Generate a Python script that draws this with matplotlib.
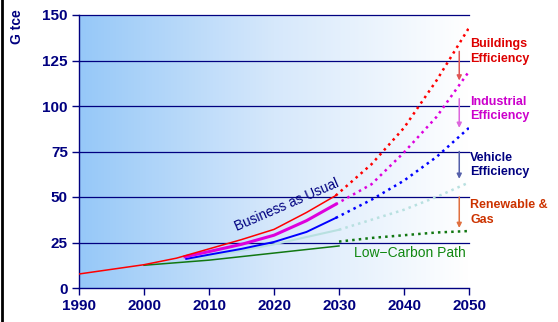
import matplotlib.pyplot as plt
import numpy as np
from matplotlib.colors import LinearSegmentedColormap
from matplotlib.lines import Line2D

plt.rcParams['font.family'] = ['Liberation Sans', 'DejaVu Sans']

# historical + business-as-usual (solid to 2029, projected dotted after)
bau_years = [1990, 2000, 2005, 2010, 2015, 2020, 2025, 2029.5]
bau_vals = [7.7, 12.8, 16.4, 21.5, 26.6, 32.2, 41.5, 50.8]
bau_proj_years = [2029.5, 2035, 2040, 2045, 2050]
bau_proj_vals = [50.8, 68, 88, 114, 143]

ind_years = [2006.3, 2010, 2015, 2020, 2025, 2029.5]
ind_vals = [17.2, 20, 24, 29, 37, 46]
ind_proj_years = [2029.5, 2035, 2040, 2045, 2050]
ind_proj_vals = [46, 57, 74.5, 94, 119]

veh_years = [2006.5, 2010, 2015, 2020, 2025, 2029.5]
veh_vals = [16, 18.3, 21.5, 25.3, 30.8, 38.5]
veh_proj_years = [2029.5, 2035, 2040, 2045, 2050]
veh_proj_vals = [38.5, 48.5, 59, 72, 88]

ren_years = [2007, 2015, 2020, 2025, 2030]
ren_vals = [15.5, 20.5, 24, 28, 32]
ren_proj_years = [2030, 2035, 2040, 2045, 2050]
ren_proj_vals = [32, 37.5, 43, 50, 58]

low_years = [2000, 2010, 2020, 2030]
low_vals = [12.5, 15.3, 19.2, 23.1]
low_proj_years = [2030, 2035, 2040, 2045, 2050]
low_proj_vals = [25.5, 27.5, 29, 30.5, 31.3]

# wedge labels: text, text colour, arrow colour, arrow start/end, text y
wedges = [
    ("Buildings\nEfficiency", "#dd0000", "#e05555", 130, 114, 130),
    ("Industrial\nEfficiency", "#cc00cc", "#dd66dd", 104, 88, 98.5),
    ("Vehicle\nEfficiency", "#000080", "#5560aa", 75, 60, 67.5),
    ("Renewable &\nGas", "#cc3300", "#e07040", 50, 33, 41.5),
]

navy = "#000080"

fig = plt.figure(figsize=(5.58, 3.22), dpi=100)
ax = fig.add_axes([79 / 558, 34 / 322, 390 / 558, 273 / 322])

# horizontal blue-to-white gradient behind the plot
cmap = LinearSegmentedColormap.from_list("bg", ["#96c8f8", "#d6e8fb", "#ffffff"])
grad = np.linspace(0, 1, 256).reshape(1, -1)
ax.imshow(grad, extent=[1990, 2050, 0, 150], aspect="auto", cmap=cmap, zorder=0)

for yv in [25, 50, 75, 100, 125, 150]:
    ax.axhline(yv, color=navy, lw=0.9, zorder=1, clip_on=False)

ax.plot(ren_years, ren_vals, color="#b8e0e0", lw=1.5, zorder=2)
ax.plot(ren_proj_years, ren_proj_vals, color="#b8e0e0", lw=1.8, ls=":", zorder=2)
ax.plot(low_years, low_vals, color="#117711", lw=1.1, zorder=3)
ax.plot(low_proj_years, low_proj_vals, color="#117711", lw=1.8, ls=":", zorder=3)
ax.plot(veh_years, veh_vals, color="#0000ff", lw=1.4, zorder=3)
ax.plot(veh_proj_years, veh_proj_vals, color="#0000ff", lw=1.8, ls=":", zorder=3)
ax.plot(ind_years, ind_vals, color="#dd00dd", lw=2.2, zorder=3)
ax.plot(ind_proj_years, ind_proj_vals, color="#dd00dd", lw=1.8, ls=":", zorder=3)
ax.plot(bau_years, bau_vals, color="#ff0000", lw=1.1, zorder=4)
ax.plot(bau_proj_years, bau_proj_vals, color="#ff0000", lw=1.8, ls=":", zorder=4)

for label, tcol, acol, y0, y1, ty in wedges:
    ax.annotate("", xy=(2048.5, y1), xytext=(2048.5, y0),
                arrowprops=dict(arrowstyle="-|>", color=acol, lw=1.1,
                                mutation_scale=7, shrinkA=0, shrinkB=0),
                zorder=5, annotation_clip=False)
    ax.text(2050.2, ty, label, color=tcol, fontsize=9, fontweight="bold",
            va="center", ha="left", linespacing=1.25, clip_on=False)

ax.text(2022.0, 45.5, "Business as Usual", color=navy, fontsize=9.8,
        rotation=23.5, ha="center", va="center", zorder=6)
ax.text(2040.9, 19.2, "Low\u2212Carbon Path", color="#118811", fontsize=10,
        ha="center", va="center", zorder=6)

ax.set_xlim(1990, 2050)
ax.set_ylim(0, 150)
ax.set_xticks(range(1990, 2051, 10))
ax.set_yticks(range(0, 151, 25))
ax.tick_params(colors=navy, labelsize=11, length=5, width=1, pad=3)
for lab in ax.get_xticklabels() + ax.get_yticklabels():
    lab.set_fontweight("bold")
for side in ["top", "right"]:
    ax.spines[side].set_visible(False)
for side in ["left", "bottom"]:
    ax.spines[side].set_color(navy)
    ax.spines[side].set_linewidth(1)

fig.text(17 / 558, 1 - 27 / 322, "G tce", color=navy, fontsize=10,
         fontweight="bold", rotation=90, ha="center", va="center")
fig.add_artist(Line2D([2 / 558, 2 / 558], [0, 1], color="black", lw=2,
                      transform=fig.transFigure))

fig.savefig("out.png", dpi=100)
